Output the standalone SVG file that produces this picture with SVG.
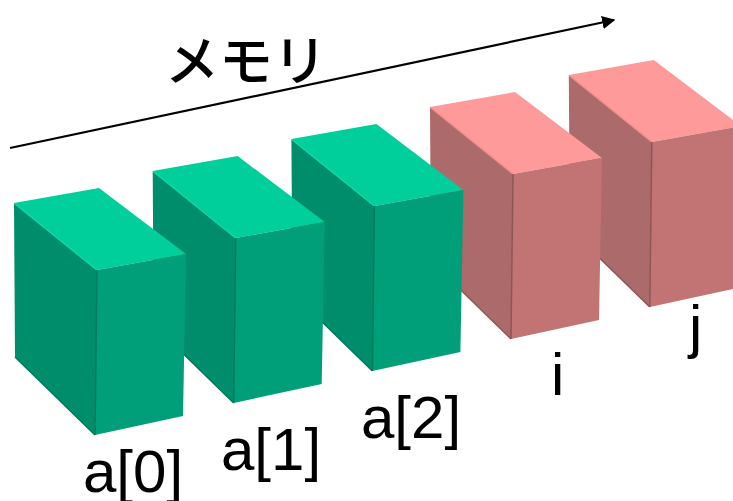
<svg xmlns="http://www.w3.org/2000/svg" width="733" height="501" viewBox="0 0 733 501">
  <style>
    .g .top{fill:#00CE9B}
    .g .left{fill:#008D6C}
    .g .front{fill:#009F79}
    .g .hl{stroke:#10D8A6}
    .g .dk{stroke:#007A5C}
    .p .top{fill:#FE9A9A}
    .p .left{fill:#AD6A6A}
    .p .front{fill:#C27474}
    .p .hl{stroke:#F08E8E}
    .p .dk{stroke:#8F5555}
    .hl,.dk{fill:none;stroke-width:1.5}
    .lbl{font-family:"Liberation Sans",Arial,sans-serif;font-size:60px;fill:#000}
    .ttl{font-family:"Noto Sans CJK JP","Noto Sans CJK SC",sans-serif;font-size:54px;font-weight:500;fill:#000}
  </style>
  <defs>
    <marker id="ah" viewBox="0 0 10 10" refX="9" refY="5" markerWidth="6" markerHeight="6" orient="auto" markerUnits="strokeWidth">
      <path d="M0,0 L10,5 L0,10 Z" fill="#000"/>
    </marker>
  </defs>
  <g id="connectors">
    <line x1="10" y1="148" x2="614" y2="20" stroke="#000" stroke-width="2.2" marker-end="url(#ah)"/>
  </g>
  <g id="title"><text class="ttl" x="165" y="81">メモリ</text></g>
  <g id="box-j" class="p" transform="translate(568.8,75)">
    <path class="top" d="M0,0 L85,-15 L172,51 L83,67 Z"/>
    <path class="left" d="M0,0 L83,67 L81,232 L1,154 Z"/>
    <path class="front" d="M83,67 L172,51 L169,213 L81,232 Z"/>
    <path class="hl" d="M0.5,0.5 L83,67"/>
    <path class="dk" d="M83,67 L81,232 M1,154 L81,232"/>
  </g>
  <g id="box-i" class="p" transform="translate(430,107)">
    <path class="top" d="M0,0 L85,-15 L172,51 L83,67 Z"/>
    <path class="left" d="M0,0 L83,67 L81,232 L1,154 Z"/>
    <path class="front" d="M83,67 L172,51 L169,213 L81,232 Z"/>
    <path class="hl" d="M0.5,0.5 L83,67"/>
    <path class="dk" d="M83,67 L81,232 M1,154 L81,232"/>
  </g>
  <g id="box-a2" class="g" transform="translate(291.4,139)">
    <path class="top" d="M0,0 L85,-15 L172,51 L83,67 Z"/>
    <path class="left" d="M0,0 L83,67 L81,232 L1,154 Z"/>
    <path class="front" d="M83,67 L172,51 L169,213 L81,232 Z"/>
    <path class="hl" d="M0.5,0.5 L83,67"/>
    <path class="dk" d="M83,67 L81,232 M1,154 L81,232"/>
  </g>
  <g id="box-a1" class="g" transform="translate(152.7,171)">
    <path class="top" d="M0,0 L85,-15 L172,51 L83,67 Z"/>
    <path class="left" d="M0,0 L83,67 L81,232 L1,154 Z"/>
    <path class="front" d="M83,67 L172,51 L169,213 L81,232 Z"/>
    <path class="hl" d="M0.5,0.5 L83,67"/>
    <path class="dk" d="M83,67 L81,232 M1,154 L81,232"/>
  </g>
  <g id="box-a0" class="g" transform="translate(14,203)">
    <path class="top" d="M0,0 L85,-15 L172,51 L83,67 Z"/>
    <path class="left" d="M0,0 L83,67 L81,232 L1,154 Z"/>
    <path class="front" d="M83,67 L172,51 L169,213 L81,232 Z"/>
    <path class="hl" d="M0.5,0.5 L83,67"/>
    <path class="dk" d="M83,67 L81,232 M1,154 L81,232"/>
  </g>
  <g id="labels">
    <text class="lbl" x="83" y="492">a[0]</text>
    <text class="lbl" x="221" y="470">a[1]</text>
    <text class="lbl" x="361" y="438">a[2]</text>
    <text class="lbl" x="551" y="395">i</text>
    <text class="lbl" x="689" y="347">j</text>
  </g>
</svg>
